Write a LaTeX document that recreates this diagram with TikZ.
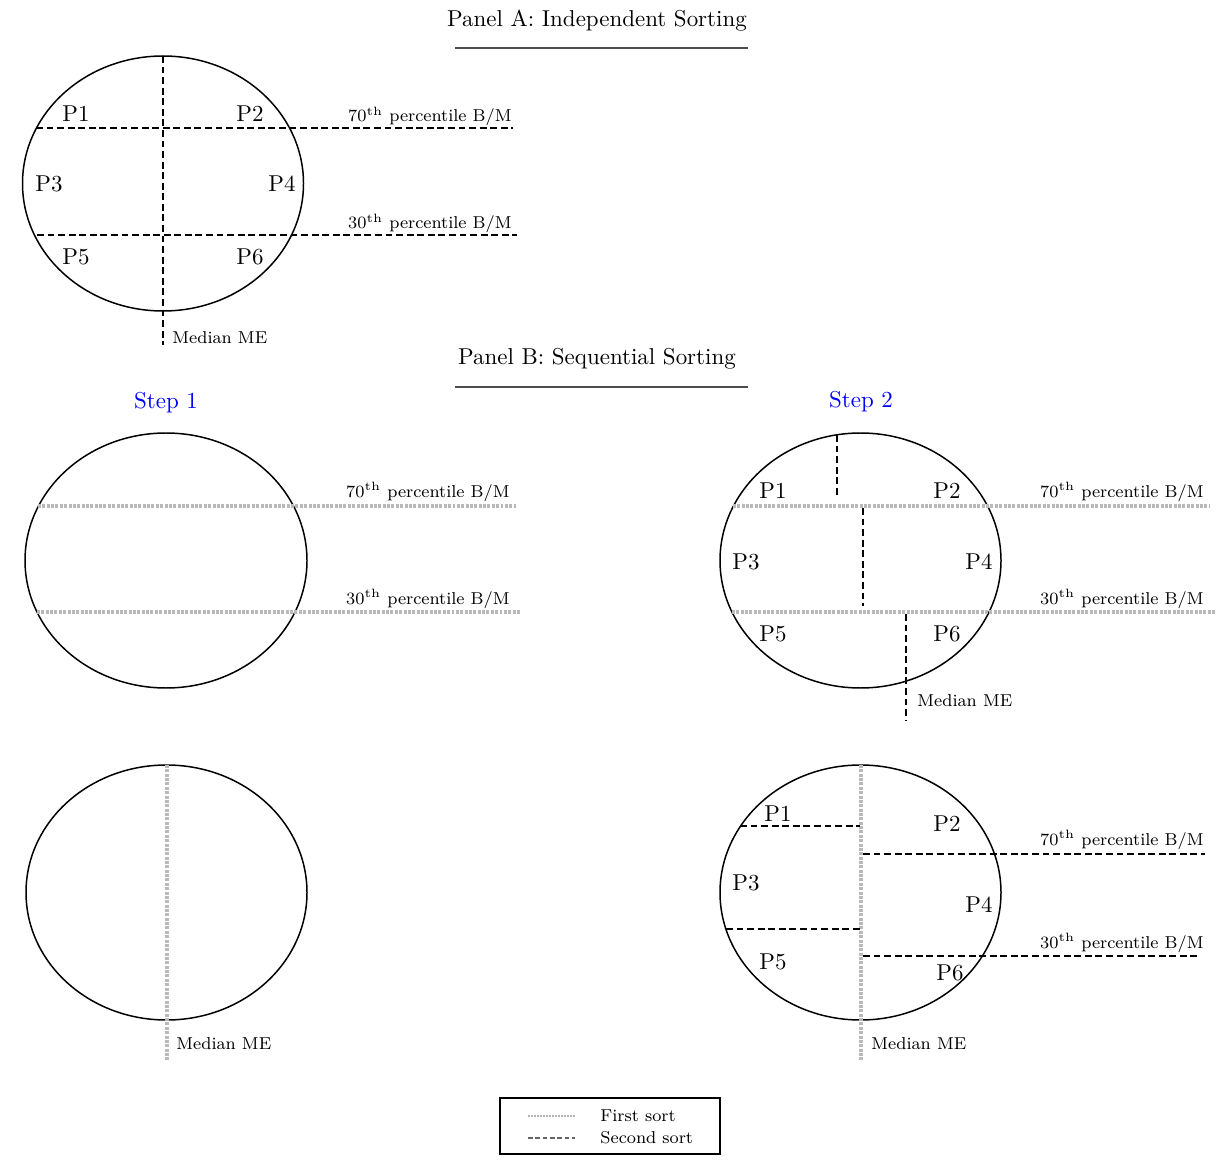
\documentclass[tikz,border=0pt]{standalone}
\usepackage{tikz}
\newcommand{\smalltext}{\fontsize{7.5}{9}\selectfont}
\begin{document}
\begin{tikzpicture}[x=0.0153cm,y=-0.0153cm,
  oval/.style={draw=black,line width=0.65pt},
  firstsort/.style={draw=gray!55,line width=1.5pt,dash pattern=on 1.3pt off 0.6pt},
  secondsort/.style={draw=black,line width=0.7pt,dash pattern=on 3pt off 1.6pt},
  title/.style={inner sep=0pt,font=\normalsize},
  rule/.style={draw=black!70,line width=0.6pt},
  steplabel/.style={inner sep=0pt,text=blue,font=\normalsize},
  port/.style={inner sep=0pt,font=\normalsize},
  cutlabel/.style={inner sep=0pt,font=\smalltext,anchor=base east},
  melabel/.style={inner sep=0pt,font=\smalltext,anchor=west}]
\useasboundingbox (0,0) rectangle (1225,1163);

% ---------------- Panel A ----------------
\node[title] (tA) at (597,21) {Panel A: Independent Sorting};
\coordinate (uA1) at (455,48); \coordinate (uA2) at (748,48);
\draw[rule] (uA1) -- (uA2);

\draw[oval] (163,183.5) ellipse [x radius=140.5, y radius=127.5];
\coordinate (aV1) at (163,56);  \coordinate (aV2) at (163,345);
\coordinate (aH1) at (36,128);  \coordinate (aH2) at (513,128);
\coordinate (aL1) at (37,235);  \coordinate (aL2) at (517,235);
\draw[secondsort] (aV1) -- (aV2);
\draw[secondsort] (aH1) -- (aH2);
\draw[secondsort] (aL1) -- (aL2);
\node[port] (aP1) at (76,114) {P1};
\node[port] (aP2) at (250,114) {P2};
\node[port] (aP3) at (49,184) {P3};
\node[port] (aP4) at (282,184) {P4};
\node[port] (aP5) at (76,257) {P5};
\node[port] (aP6) at (250,257) {P6};
\node[cutlabel] (aC70) at (512,122) {70\textsuperscript{th} percentile B/M};
\node[cutlabel] (aC30) at (512,229) {30\textsuperscript{th} percentile B/M};
\node[melabel] (aME) at (172,338) {Median ME};

% ---------------- Panel B ----------------
\node[title] (tB) at (597,359) {Panel B: Sequential Sorting};
\coordinate (uB1) at (455,387); \coordinate (uB2) at (748,387);
\draw[rule] (uB1) -- (uB2);

\node[steplabel] (s1) at (166,403) {Step 1};
\node[steplabel] (s2) at (861,402) {Step 2};

% Step 1, B/M first
\draw[oval] (166,560.5) ellipse [x radius=141, y radius=127.5];
\coordinate (b1H1) at (38,506); \coordinate (b1H2) at (516,506);
\coordinate (b1L1) at (37,612); \coordinate (b1L2) at (521,612);
\draw[firstsort] (b1H1) -- (b1H2);
\draw[firstsort] (b1L1) -- (b1L2);
\node[cutlabel] (b1C70) at (510,497) {70\textsuperscript{th} percentile B/M};
\node[cutlabel] (b1C30) at (510,604) {30\textsuperscript{th} percentile B/M};

% Step 2, B/M first
\draw[oval] (860.5,560.5) ellipse [x radius=140.5, y radius=127.5];
\coordinate (b2H1) at (733,506); \coordinate (b2H2) at (1210,506);
\coordinate (b2L1) at (732,612); \coordinate (b2L2) at (1215,612);
\draw[firstsort] (b2H1) -- (b2H2);
\draw[firstsort] (b2L1) -- (b2L2);
\coordinate (b2V1a) at (837,435); \coordinate (b2V1b) at (837,498);
\coordinate (b2V2a) at (863,508); \coordinate (b2V2b) at (863,606);
\coordinate (b2V3a) at (906,614); \coordinate (b2V3b) at (906,720);
\draw[secondsort] (b2V1a) -- (b2V1b);
\draw[secondsort] (b2V2a) -- (b2V2b);
\draw[secondsort] (b2V3a) -- (b2V3b);
\node[port] (b2P1) at (773,491) {P1};
\node[port] (b2P2) at (947,491) {P2};
\node[port] (b2P3) at (746,562) {P3};
\node[port] (b2P4) at (979,562) {P4};
\node[port] (b2P5) at (773,634) {P5};
\node[port] (b2P6) at (947,634) {P6};
\node[cutlabel] (b2C70) at (1204,497) {70\textsuperscript{th} percentile B/M};
\node[cutlabel] (b2C30) at (1204,604) {30\textsuperscript{th} percentile B/M};
\node[melabel] (b2ME) at (917,701) {Median ME};

% Step 1, size first
\draw[oval] (166.5,892.5) ellipse [x radius=140.5, y radius=127.5];
\coordinate (c1V1) at (167,765); \coordinate (c1V2) at (167,1060);
\draw[firstsort] (c1V1) -- (c1V2);
\node[melabel] (c1ME) at (176,1044) {Median ME};

% Step 2, size first
\draw[oval] (860.5,892.5) ellipse [x radius=140.5, y radius=127.5];
\coordinate (c2V1) at (861,765); \coordinate (c2V2) at (861,1060);
\draw[firstsort] (c2V1) -- (c2V2);
\coordinate (c2A1) at (740,826); \coordinate (c2A2) at (860,826);
\coordinate (c2B1) at (726,929); \coordinate (c2B2) at (862,929);
\coordinate (c2C1) at (863,854); \coordinate (c2C2) at (1205,854);
\coordinate (c2D1) at (863,956); \coordinate (c2D2) at (1201,956);
\draw[secondsort] (c2A1) -- (c2A2);
\draw[secondsort] (c2B1) -- (c2B2);
\draw[secondsort] (c2C1) -- (c2C2);
\draw[secondsort] (c2D1) -- (c2D2);
\node[port] (c2P1) at (778,814) {P1};
\node[port] (c2P2) at (947,824) {P2};
\node[port] (c2P3) at (746,883) {P3};
\node[port] (c2P4) at (979,905) {P4};
\node[port] (c2P5) at (773,962) {P5};
\node[port] (c2P6) at (950,973) {P6};
\node[cutlabel] (c2C70) at (1204,845) {70\textsuperscript{th} percentile B/M};
\node[cutlabel] (c2C30) at (1204,948) {30\textsuperscript{th} percentile B/M};
\node[melabel] (c2ME) at (871,1044) {Median ME};

% ---------------- Legend ----------------
\node[draw=black,line width=0.7pt,minimum width=220*0.0153cm,minimum height=56*0.0153cm,inner sep=0pt] (leg) at (610,1126) {};
\coordinate (l1a) at (528,1116); \coordinate (l1b) at (575,1116);
\coordinate (l2a) at (528,1138); \coordinate (l2b) at (575,1138);
\draw[draw=gray!60,line width=1pt,dash pattern=on 0.9pt off 0.4pt] (l1a) -- (l1b);
\draw[draw=black!60,line width=0.45pt,dash pattern=on 2pt off 1.2pt] (l2a) -- (l2b);
\node[melabel] (lt1) at (600,1116) {First sort};
\node[melabel] (lt2) at (600,1138) {Second sort};
\end{tikzpicture}
\end{document}
